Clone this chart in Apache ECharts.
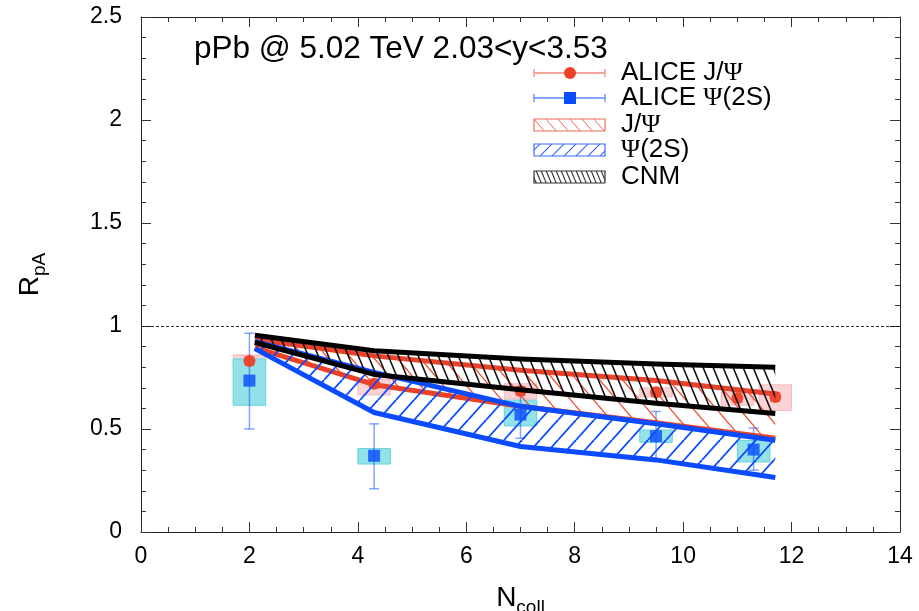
<!DOCTYPE html>
<html>
<head>
<meta charset="utf-8">
<script src="https://cdn.jsdelivr.net/npm/echarts@6.0.0/dist/echarts.min.js"></script>
<style>
  html, body { margin: 0; padding: 0; background: #fff; }
  #chart { width: 919px; height: 611px; }
</style>
</head>
<body>
<div id="chart"></div>
<script>
// R_pA vs Ncoll, ALICE J/Psi and Psi(2S) with model bands

// ── Data ───────────────────────────────────────────────────────────────
const modelNcoll = [2.1, 4.3, 7.0, 9.5, 11.7];
const cnmUpper   = [0.955, 0.88, 0.84, 0.815, 0.80];
const cnmLower   = [0.92, 0.765, 0.69, 0.625, 0.575];
const jpsiUpper  = [0.935, 0.855, 0.785, 0.735, 0.67];
const jpsiLower  = [0.895, 0.715, 0.61, 0.53, 0.455];
const psiUpper   = [0.925, 0.775, 0.61, 0.525, 0.445];
const psiLower   = [0.89, 0.58, 0.415, 0.35, 0.265];

const jpsiNcoll  = [2.0, 4.3, 7.0, 9.5, 11.0, 11.7];
const jpsiR      = [0.83, 0.72, 0.685, 0.678, 0.65, 0.655];
const jpsiStat   = [0.02, 0.02, 0.02, 0.02, 0.02, 0.02];
const jpsiSysLo  = [0.80, 0.665, 0.645, 0.655, 0.615, 0.59];
const jpsiSysHi  = [0.86, 0.74, 0.72, 0.70, 0.68, 0.715];

const psiNcoll   = [2.0, 4.3, 7.0, 9.5, 11.3];
const psiR       = [0.735, 0.37, 0.57, 0.465, 0.40];
const psiStatLo  = [0.50, 0.21, 0.455, 0.355, 0.30];
const psiStatHi  = [0.965, 0.525, 0.70, 0.585, 0.505];
const psiSysLo   = [0.615, 0.33, 0.515, 0.435, 0.34];
const psiSysHi   = [0.84, 0.405, 0.64, 0.495, 0.445];

const xTicks = [0, 2, 4, 6, 8, 10, 12, 14];
const yTicks = [0, 0.5, 1, 1.5, 2, 2.5];
const BOX_HALF = 0.3;

// ── Colours ────────────────────────────────────────────────────────────
const RED   = '#ec4126';
const BLUE  = '#0a4bff';
const BLACK = '#000000';
const FONT  = 'Liberation Sans';

// Diagonal hatch tile; dir '\\' runs top-left → bottom-right
function hatch(w, h, color, lw, dir) {
    const c = document.createElement('canvas');
    c.width = w; c.height = h;
    const g = c.getContext('2d');
    g.strokeStyle = color;
    g.lineWidth = lw;
    for (const dx of [-w, 0, w]) {
        g.beginPath();
        if (dir === '\\') { g.moveTo(dx, 0); g.lineTo(dx + w, h); }
        else { g.moveTo(dx, h); g.lineTo(dx + w, 0); }
        g.stroke();
    }
    return { image: c, repeat: 'repeat' };
}

const redHatch   = hatch(23, 27, '#ee4a32', 1.2, '\\');
const blueHatch  = hatch(18, 20, BLUE, 1.8, '/');
const blackHatch = hatch(10, 24, '#111', 1.6, '\\');

function bandSeries(name, upper, lower, color, pattern, z) {
    return {
        name: name,
        type: 'custom',
        z: z,
        silent: true,
        data: [0],
        renderItem: function (params, api) {
            const top = modelNcoll.map((x, i) => api.coord([x, upper[i]]));
            const bot = modelNcoll.map((x, i) => api.coord([x, lower[i]]));
            const poly = top.concat(bot.slice().reverse());
            return {
                type: 'group',
                children: [
                    { type: 'polygon', shape: { points: poly }, style: { fill: pattern } },
                    { type: 'polyline', shape: { points: top }, style: { stroke: color, lineWidth: 5, fill: null, lineJoin: 'round' } },
                    { type: 'polyline', shape: { points: bot }, style: { stroke: color, lineWidth: 5, fill: null, lineJoin: 'round' } }
                ]
            };
        }
    };
}

function boxSeries(xs, lo, hi, fill, stroke, z) {
    return {
        type: 'custom',
        z: z,
        silent: true,
        data: xs.map((x, i) => [x, lo[i], hi[i]]),
        renderItem: function (params, api) {
            const p1 = api.coord([api.value(0) - BOX_HALF, api.value(2)]);
            const p2 = api.coord([api.value(0) + BOX_HALF, api.value(1)]);
            return {
                type: 'rect',
                shape: { x: p1[0], y: p1[1], width: p2[0] - p1[0], height: p2[1] - p1[1] },
                style: { fill: fill, stroke: stroke, lineWidth: 1 }
            };
        }
    };
}

function errSeries(xs, lo, hi, color, z) {
    return {
        type: 'custom',
        z: z,
        silent: true,
        data: xs.map((x, i) => [x, lo[i], hi[i]]),
        renderItem: function (params, api) {
            const a = api.coord([api.value(0), api.value(2)]);
            const b = api.coord([api.value(0), api.value(1)]);
            const st = { stroke: color, lineWidth: 1.5 };
            return {
                type: 'group',
                children: [
                    { type: 'line', shape: { x1: a[0], y1: a[1], x2: b[0], y2: b[1] }, style: st },
                    { type: 'line', shape: { x1: a[0] - 5, y1: a[1], x2: a[0] + 5, y2: a[1] }, style: st },
                    { type: 'line', shape: { x1: b[0] - 5, y1: b[1], x2: b[0] + 5, y2: b[1] }, style: st }
                ]
            };
        }
    };
}

function frameAxis(extra) {
    return Object.assign({
        type: 'value',
        axisLine: { show: true, onZero: false, lineStyle: { color: '#222', width: 1 } },
        axisTick: { show: true, inside: true, length: 10, lineStyle: { color: '#333' } },
        minorTick: { show: true, length: 5, lineStyle: { color: '#333' } },
        splitLine: { show: false },
        minorSplitLine: { show: false }
    }, extra);
}

const chart = echarts.init(document.getElementById('chart'), null, { renderer: 'canvas' });

const subRich = {
    m: { fontSize: 28, fontFamily: FONT, color: '#000' },
    s: { fontSize: 19, fontFamily: FONT, color: '#000', padding: [18, 0, 0, 0] }
};

chart.setOption({
    animation: false,
    backgroundColor: '#ffffff',
    title: {
        text: 'pPb @ 5.02 TeV 2.03<y<3.53',
        left: 194, top: 33, padding: 0,
        textStyle: { fontSize: 31.5, fontWeight: 'normal', fontFamily: FONT, color: '#000' }
    },
    grid: { left: 141, right: 19, top: 17, bottom: 79, containLabel: false, outerBoundsMode: 'none' },
    xAxis: [
        frameAxis({
            position: 'bottom', min: xTicks[0], max: xTicks[xTicks.length - 1], interval: 2,
            minorTick: { show: true, splitNumber: 4, length: 5, lineStyle: { color: '#333' } },
            axisLabel: { fontSize: 23, fontFamily: FONT, color: '#000', margin: 13 },
            name: '{m|N}{s|coll}', nameLocation: 'middle', nameGap: 48,
            nameTextStyle: { rich: subRich }
        }),
        frameAxis({
            position: 'top', min: xTicks[0], max: xTicks[xTicks.length - 1], interval: 2,
            minorTick: { show: true, splitNumber: 4, length: 5, lineStyle: { color: '#333' } },
            axisLabel: { show: false }
        })
    ],
    yAxis: [
        frameAxis({
            position: 'left', min: yTicks[0], max: yTicks[yTicks.length - 1], interval: 0.5,
            minorTick: { show: true, splitNumber: 5, length: 5, lineStyle: { color: '#333' } },
            axisLabel: { fontSize: 23, fontFamily: FONT, color: '#000', margin: 19 },
            name: '{m|R}{s|pA}', nameLocation: 'middle', nameGap: 92, nameRotate: 90,
            nameTextStyle: { rich: subRich }
        }),
        frameAxis({
            position: 'right', min: yTicks[0], max: yTicks[yTicks.length - 1], interval: 0.5,
            minorTick: { show: true, splitNumber: 5, length: 5, lineStyle: { color: '#333' } },
            axisLabel: { show: false }
        })
    ],
    series: [
        // systematic boxes
        boxSeries(jpsiNcoll, jpsiSysLo, jpsiSysHi, 'rgba(240,130,140,0.35)', 'rgba(240,130,140,0.45)', 1),
        boxSeries(psiNcoll, psiSysLo, psiSysHi, '#93e2e9', '#66d2de', 2),
        // statistical errors
        errSeries(jpsiNcoll, jpsiR.map((v, i) => v - jpsiStat[i]), jpsiR.map((v, i) => v + jpsiStat[i]), 'rgba(236,65,38,0.55)', 3),
        errSeries(psiNcoll, psiStatLo, psiStatHi, 'rgba(10,75,255,0.5)', 3),
        {
            name: 'ALICE J/Ψ', type: 'scatter', z: 4, silent: true,
            symbol: 'circle', symbolSize: 12,
            itemStyle: { color: RED, opacity: 0.95 },
            data: jpsiNcoll.map((x, i) => [x, jpsiR[i]]),
            markLine: {
                silent: true, symbol: 'none', label: { show: false },
                lineStyle: { color: '#000', width: 0.8, type: [3, 2] },
                data: [{ yAxis: 1 }]
            }
        },
        {
            name: 'ALICE Ψ(2S)', type: 'scatter', z: 4, silent: true,
            symbol: 'rect', symbolSize: 12,
            itemStyle: { color: BLUE },
            data: psiNcoll.map((x, i) => [x, psiR[i]])
        },
        // model bands
        bandSeries('J/Ψ', jpsiUpper, jpsiLower, RED, redHatch, 5),
        bandSeries('Ψ(2S)', psiUpper, psiLower, BLUE, blueHatch, 6),
        bandSeries('CNM', cnmUpper, cnmLower, BLACK, blackHatch, 7)
    ]
});

// ── Legend (hand-built: error-bar and hatch icons) ─────────────────────
const LX1 = 534, LX2 = 605, LTX = 621;
const rowsY = [73, 98, 125, 150, 177];
const textStyle = (txt, y) => ({
    type: 'text', x: LTX, y: y,
    style: {
        text: txt, fontSize: 26, fontFamily: FONT, fill: '#000', verticalAlign: 'middle',
        rich: { g: { fontSize: 26, fontFamily: 'Liberation Serif', fill: '#000' } }
    }
});
const errIcon = (y, color) => [
    { type: 'line', shape: { x1: LX1, y1: y, x2: LX2, y2: y }, style: { stroke: color, lineWidth: 1.3 } },
    { type: 'line', shape: { x1: LX1, y1: y - 4, x2: LX1, y2: y + 4 }, style: { stroke: color, lineWidth: 1.3 } },
    { type: 'line', shape: { x1: LX2, y1: y - 4, x2: LX2, y2: y + 4 }, style: { stroke: color, lineWidth: 1.3 } }
];
const hatchIcon = (y, pattern, stroke) => ({
    type: 'rect', shape: { x: LX1, y: y - 6, width: LX2 - LX1, height: 12 },
    style: { fill: pattern, stroke: stroke, lineWidth: 1.2 }
});

chart.setOption({
    graphic: [].concat(
        errIcon(rowsY[0], '#f08a7c'),
        [{ type: 'circle', shape: { cx: 570, cy: rowsY[0], r: 6 }, style: { fill: RED } }],
        [textStyle('ALICE J/{g|Ψ}', rowsY[0])],
        errIcon(rowsY[1], '#5a86ff'),
        [{ type: 'rect', shape: { x: 564, y: rowsY[1] - 6, width: 12, height: 12 }, style: { fill: BLUE } }],
        [textStyle('ALICE {g|Ψ}(2S)', rowsY[1])],
        [hatchIcon(rowsY[2], hatch(12, 14, '#f06a58', 1, '\\'), '#f06a58'), textStyle('J/{g|Ψ}', rowsY[2])],
        [hatchIcon(rowsY[3], hatch(12, 12, '#3a6bff', 1.2, '/'), '#3a6bff'), textStyle('{g|Ψ}(2S)', rowsY[3])],
        [hatchIcon(rowsY[4], hatch(5, 12, '#333', 1.1, '\\'), '#333'), textStyle('CNM', rowsY[4])]
    )
});
</script>
</body>
</html>
